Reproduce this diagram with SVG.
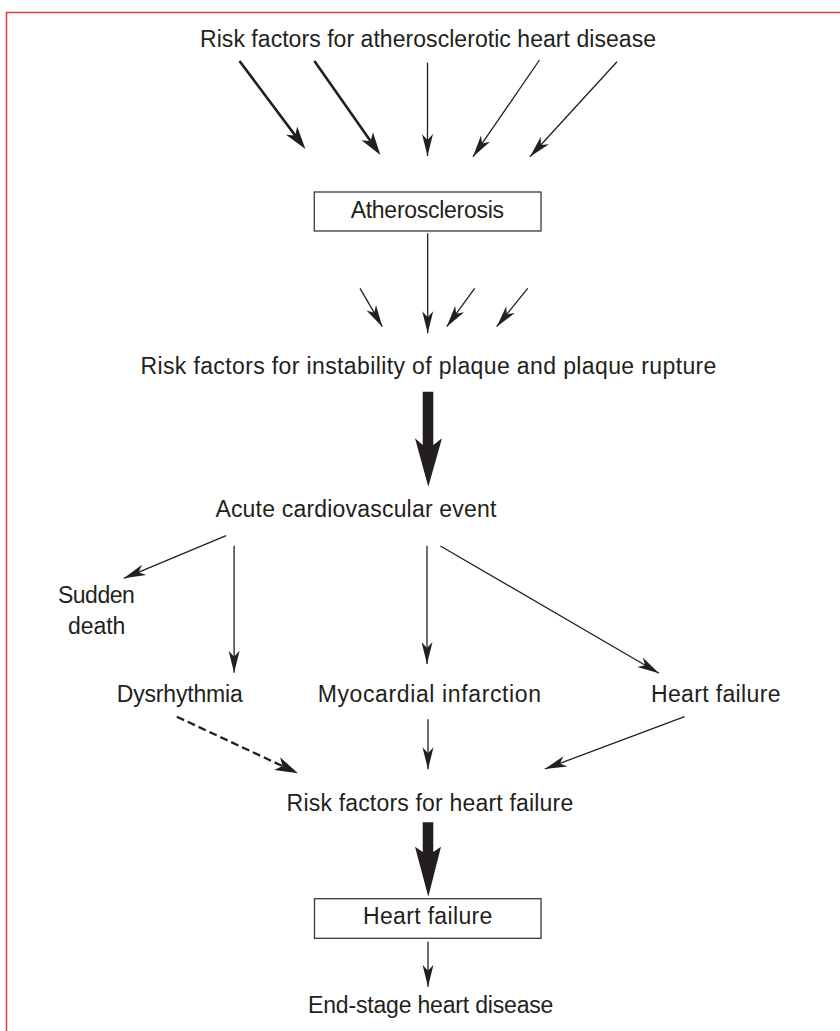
<svg xmlns="http://www.w3.org/2000/svg" width="840" height="1031" viewBox="0 0 840 1031">
<style>
text{font-family:"Liberation Sans",Arial,sans-serif;font-size:23px;fill:#231f20}
.ln{stroke:#231f20;stroke-width:1.3;fill:none}
.thk{stroke:#231f20;stroke-width:2.6;fill:none}
.dash{stroke:#231f20;stroke-width:2.3;fill:none;stroke-dasharray:8 4}
.box{fill:#fff;stroke:#3a3a3a;stroke-width:1.3}
.big{fill:#231f20}
</style>
<defs>
<marker id="ah" markerUnits="userSpaceOnUse" markerWidth="30" markerHeight="20" viewBox="-24 -10 30 20" refX="0" refY="0" orient="auto" overflow="visible">
<path d="M0,0 L-22,-5.5 L-16,0 L-22,5.5 Z" fill="#231f20"/>
</marker>
<marker id="ahT" markerUnits="userSpaceOnUse" markerWidth="34" markerHeight="20" viewBox="-24 -10 34 20" refX="0" refY="0" orient="auto" overflow="visible">
<path d="M8,0 L-15,-7 L-9,0 L-15,7 Z" fill="#231f20"/>
</marker>
</defs>
<path d="M6.5,1031 L6.5,12.5 L840,12.5" fill="none" stroke="#d9434e" stroke-width="1.6"/>

<g id="connectors">
<line class="thk" x1="239.5" y1="61" x2="300.6" y2="142.6" marker-end="url(#ahT)"/>
<line class="thk" x1="314.4" y1="61" x2="375.8" y2="148.5" marker-end="url(#ahT)"/>
<line class="ln" x1="427.5" y1="62.7" x2="427.5" y2="156" marker-end="url(#ah)"/>
<line class="ln" x1="539.5" y1="60" x2="473" y2="156.7" marker-end="url(#ah)"/>
<line class="ln" x1="617" y1="61.7" x2="530" y2="156.7" marker-end="url(#ah)"/>
<line class="ln" x1="427.7" y1="233.3" x2="427.7" y2="333.3" marker-end="url(#ah)"/>
<line class="ln" x1="360" y1="288.3" x2="382.3" y2="326.7" marker-end="url(#ah)"/>
<line class="ln" x1="474.7" y1="288.3" x2="446.7" y2="326.7" marker-end="url(#ah)"/>
<line class="ln" x1="527.7" y1="288.3" x2="496.7" y2="326.7" marker-end="url(#ah)"/>
<path class="big" d="M422.7,391.7 L433.3,391.7 L433.3,445 L442,438.3 L428.3,486.7 L415,438.3 L422.7,445 Z"/>
<line class="ln" x1="226.1" y1="535.7" x2="123.8" y2="578.3" marker-end="url(#ah)"/>
<line class="ln" x1="234.1" y1="545.7" x2="234.1" y2="672.7" marker-end="url(#ah)"/>
<line class="ln" x1="427" y1="545.7" x2="427" y2="664" marker-end="url(#ah)"/>
<line class="ln" x1="440.4" y1="546" x2="659" y2="673.3" marker-end="url(#ah)"/>
<line class="dash" x1="176.8" y1="716.7" x2="290.7" y2="769.9" marker-end="url(#ahT)"/>
<line class="ln" x1="428" y1="719.3" x2="428" y2="769.3" marker-end="url(#ah)"/>
<line class="ln" x1="684.6" y1="716.7" x2="544.8" y2="769" marker-end="url(#ah)"/>
<path class="big" d="M422.7,822.3 L433.3,822.3 L433.3,852 L441,846.7 L428.3,896.7 L415,846.7 L422.7,852 Z"/>
<line class="ln" x1="428" y1="941.7" x2="428" y2="986.7" marker-end="url(#ah)"/>
</g>

<g id="n-risk-athero"><text x="200" y="47" textLength="456">Risk factors for atherosclerotic heart disease</text></g>
<g id="n-atherosclerosis"><rect class="box" x="314.3" y="192" width="226.7" height="39"/><text x="350.7" y="218.3" textLength="153.3">Atherosclerosis</text></g>
<g id="n-risk-plaque"><text x="140.4" y="374" textLength="576">Risk factors for instability of plaque and plaque rupture</text></g>
<g id="n-acute"><text x="215.4" y="517.3" textLength="281">Acute cardiovascular event</text></g>
<g id="n-sudden"><text x="57.9" y="602.7" textLength="77">Sudden</text><text x="68" y="634.3" textLength="57.4">death</text></g>
<g id="n-dys"><text x="116.8" y="701.7" textLength="126">Dysrhythmia</text></g>
<g id="n-mi"><text x="317.7" y="701.7" textLength="223.3">Myocardial infarction</text></g>
<g id="n-hf1"><text x="650.9" y="701.7" textLength="129.6">Heart failure</text></g>
<g id="n-risk-hf"><text x="286.6" y="810.7" textLength="286.6">Risk factors for heart failure</text></g>
<g id="n-hf2"><rect class="box" x="314.5" y="898.7" width="226.5" height="39.6"/><text x="363" y="924" textLength="129.3">Heart failure</text></g>
<g id="n-end"><text x="308" y="1013.3" textLength="245.4">End-stage heart disease</text></g>
</svg>
